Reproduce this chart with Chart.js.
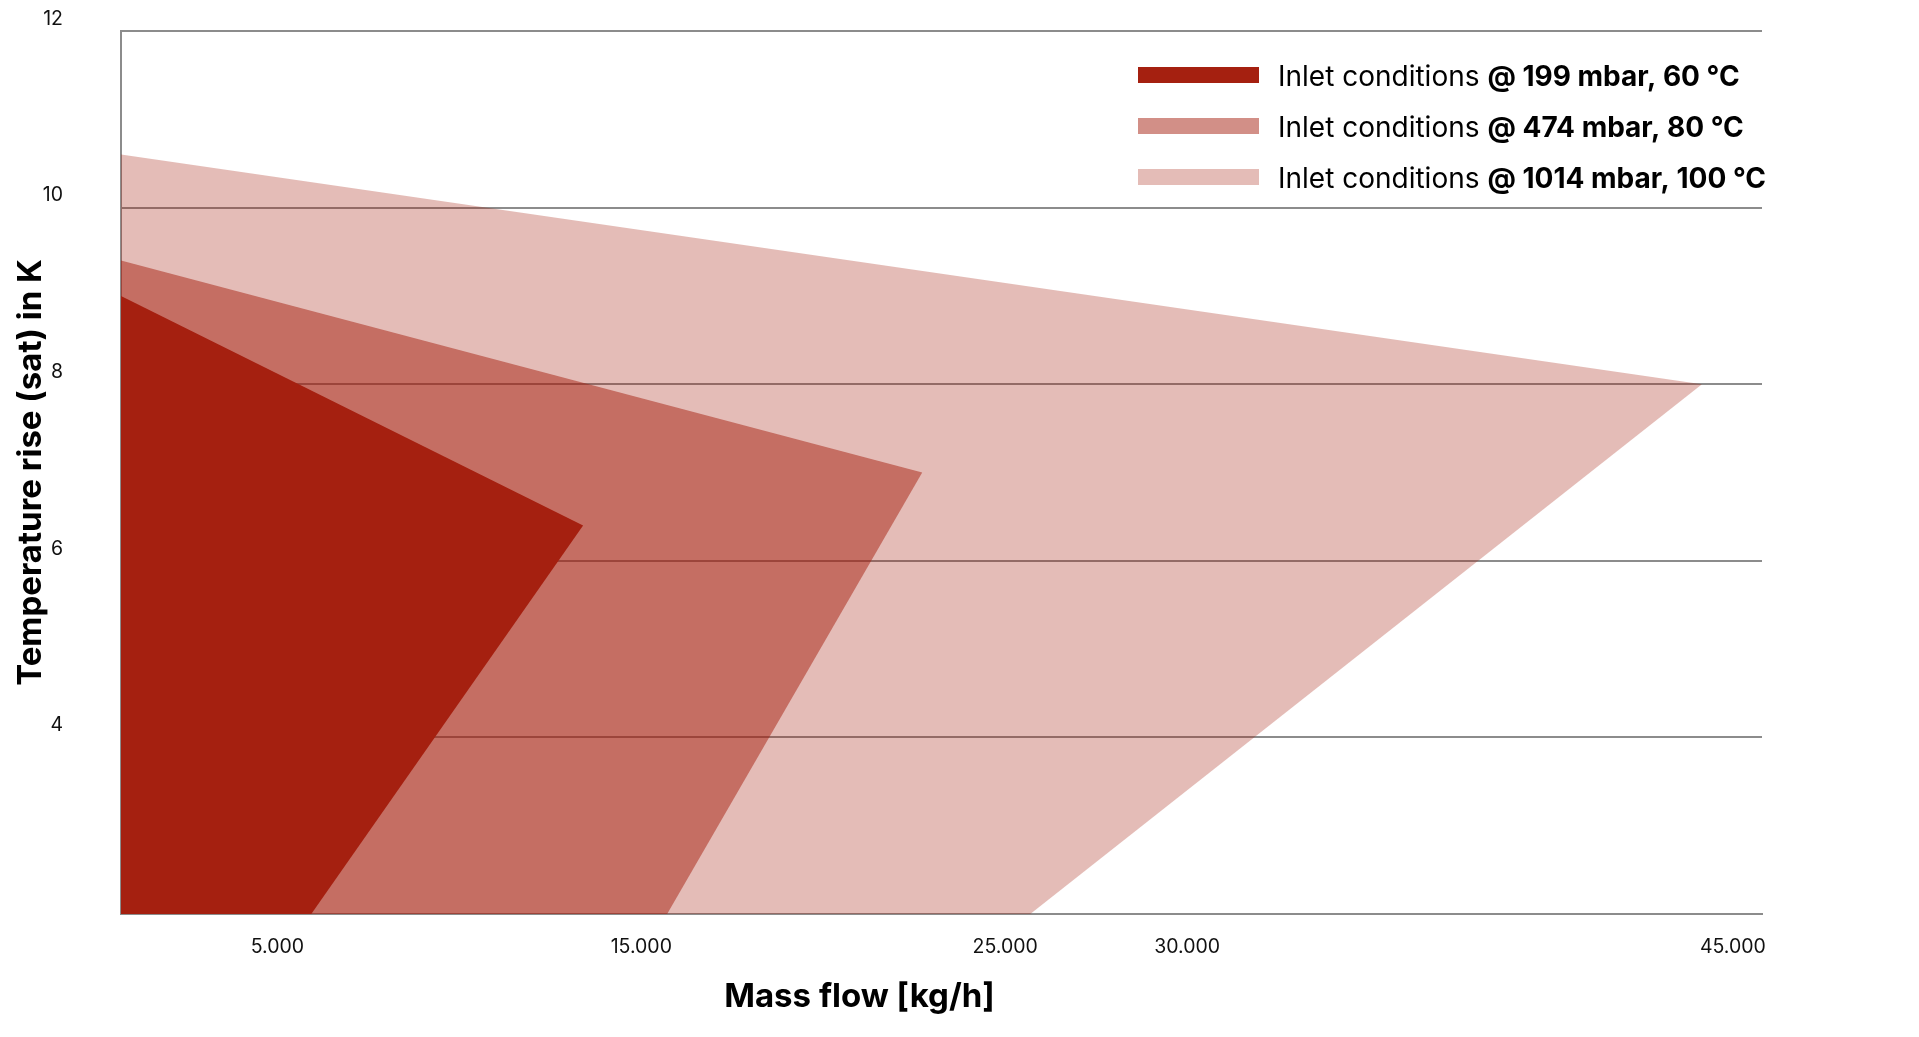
<!DOCTYPE html>
<html lang="de">
<head>
<meta charset="UTF-8" />
<title>Temperature rise vs mass flow</title>
<script src="https://cdn.jsdelivr.net/npm/chart.js"></script>
<style>
  html, body { margin: 0; padding: 0; background: #fff; }
  #wrap { width: 1919px; height: 1037px; position: relative; }
</style>
</head>
<body>
<div id="wrap"><canvas id="chart"></canvas></div>
<script>
// corners of each operating envelope (mass flow kg/h, temperature rise K)
const seriesNames = ["199 mbar, 60 °C", "474 mbar, 80 °C", "1014 mbar, 100 °C"];
const darkFlow = [700, 13400, 5930, 700];
const darkRise = [9.0, 6.4, 2, 2];
const midFlow = [700, 22720, 15710, 700];
const midRise = [9.4, 7.0, 2, 2];
const lightFlow = [700, 44150, 25690, 700];
const lightRise = [10.6, 8.0, 2, 2];

const xTicks = [5000, 15000, 25000, 30000, 45000];
const yTicks = [4, 6, 8, 10, 12];

const red = "165, 32, 16";
const alphas = [1, 0.5, 0.3];
const fontFamily = "Inter, 'Noto Sans', sans-serif";

function envelope(i, xs, ys) {
  return {
    label: seriesNames[i],
    data: xs.map((x, k) => ({ x, y: ys[k] })),
    backgroundColor: `rgba(${red}, ${alphas[i]})`,
    borderWidth: 0,
    pointRadius: 0,
    pointHoverRadius: 0,
    fill: "shape",
    tension: 0,
  };
}

function dotted(v) {
  return String(v).replace(/\B(?=(\d{3})+(?!\d))/g, ".");
}

// legend with the bold part, and the x title sitting a bit left of centre
const extras = {
  id: "extras",
  afterDraw(chart) {
    const { ctx, chartArea: a } = chart;
    ctx.save();
    ctx.textBaseline = "middle";
    ctx.textAlign = "left";
    chart.data.datasets.forEach((ds, i) => {
      const cy = a.top + 44 + i * 51;
      const sx = a.left + 1017;
      ctx.fillStyle = ds.backgroundColor;
      ctx.fillRect(sx, cy - 8, 121, 16);
      ctx.fillStyle = "#000";
      ctx.font = `400 28px ${fontFamily}`;
      const lead = "Inlet conditions ";
      ctx.fillText(lead, sx + 140, cy + 3);
      const w = ctx.measureText(lead).width;
      ctx.font = `700 28px ${fontFamily}`;
      ctx.fillText("@ " + ds.label, sx + 140 + w, cy + 3);
    });
    ctx.font = `700 33px ${fontFamily}`;
    ctx.textAlign = "center";
    ctx.fillText("Mass flow [kg/h]", a.left + (a.right - a.left) * 0.45, a.bottom + 83);
    ctx.restore();
  },
};

new Chart(document.getElementById("chart"), {
  type: "line",
  data: {
    datasets: [
      envelope(0, darkFlow, darkRise),
      envelope(1, midFlow, midRise),
      envelope(2, lightFlow, lightRise),
    ],
  },
  options: {
    responsive: true,
    maintainAspectRatio: false,
    animation: false,
    events: [],
    layout: { padding: { left: 15, top: 31, right: 157, bottom: 82 } },
    plugins: { legend: { display: false }, tooltip: { enabled: false } },
    scales: {
      x: {
        type: "linear",
        min: 700,
        max: 45800,
        afterBuildTicks: (axis) => { axis.ticks = xTicks.map((v) => ({ value: v })); },
        afterFit: (axis) => { axis.height = 41; },
        grid: { display: false, drawTicks: false },
        border: { display: true, color: "#8c8c8c", width: 2 },
        ticks: {
          padding: 21,
          color: "#111",
          font: { family: fontFamily, size: 19.5 },
          maxRotation: 0,
          callback: (v) => dotted(v),
        },
      },
      y: {
        min: 2,
        max: 12,
        afterBuildTicks: (axis) => { axis.ticks = yTicks.map((v) => ({ value: v })); },
        afterFit: (axis) => {
          axis.width = 106;
          axis.paddingTop = 0;
          axis.paddingBottom = 0;
        },
        grid: { color: "#8c8c8c", lineWidth: 2, drawTicks: false },
        border: { display: true, color: "#8c8c8c", width: 2 },
        ticks: {
          padding: 58,
          labelOffset: -12,
          color: "#111",
          font: { family: fontFamily, size: 19.5 },
        },
        title: {
          display: true,
          text: "Temperature rise (sat) in K",
          color: "#000",
          font: { family: fontFamily, size: 33, weight: "bold", lineHeight: 1 },
          padding: { top: 0, bottom: 0 },
        },
      },
    },
  },
  plugins: [extras],
});
</script>
</body>
</html>
